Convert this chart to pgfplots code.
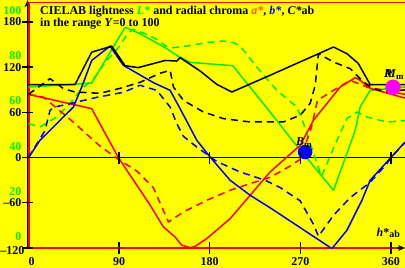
\documentclass[border=0pt]{standalone}
\usepackage{pgfplots}
\pgfplotsset{compat=1.18}
\usetikzlibrary{arrows.meta}
\usepackage{fontspec}
\setmainfont{Liberation Serif}
\definecolor{bg}{RGB}{255,255,0}
\definecolor{lg}{RGB}{0,235,0}
\definecolor{lgl}{RGB}{0,240,0}
\definecolor{ora}{RGB}{255,90,0}
\definecolor{mag}{RGB}{255,0,255}
\begin{document}
\begin{tikzpicture}[x=1pt,y=1pt]
\fill[bg] (-28.5,-20) rectangle (376.5,248);
\path[use as bounding box] (-28.5,-20) rectangle (376.5,248);
\begin{axis}[at={(0,0)},anchor=south west,scale only axis,
  width=376.5pt,height=247.8pt,
  xmin=0,xmax=374,ymin=-120,ymax=209,
  hide axis,clip=false,
  every axis plot/.append style={line width=1.5pt,line join=round,mark=none},
  dsh/.style={dash pattern=on 7pt off 5pt}]
% frame and axes
\draw[red,line width=1.5pt] (axis cs:0,206) -- (axis cs:374,206);
\draw[black,line width=1.3pt] (axis cs:0,0) -- (axis cs:374,0);
\draw[black,line width=1.3pt,-{Stealth[length=7pt,width=6pt]}] ([xshift=-1pt]axis cs:0,-120) -- ([xshift=-1pt]axis cs:0,209);
\draw[black,line width=1.3pt,-{Stealth[length=7pt,width=6pt]}] (axis cs:0,-120) -- (axis cs:374,-120);
\draw[red,line width=1.5pt] (axis cs:0,-120) -- (axis cs:366,-120);
\draw[red,line width=1.5pt] ([xshift=0.5pt]axis cs:0,-120) -- ([xshift=0.5pt]axis cs:0,206);

% L* (green)
\addplot[lg] coordinates {(0,93.7)(62.8,99)(95.9,173)(110.8,164.6)(135.7,146)(147.3,135.8)(160.5,126.5)(203,122)(240,60.5)(262,23)(303,-43.4)(324.6,36.2)(329.5,67.2)(339.4,89.3)(374,93.7)};
\addplot[lg,dsh] coordinates {(0,45.2)(11.4,40.6)(28,53.9)(41.3,71.7)(52.9,91.6)(64.4,104)(76,126.1)(89.3,146)(99.2,166)(104.2,170.3)(117.5,163.7)(127.4,157)(138.7,146)(144,146)(157.3,148.2)(177.1,152.7)(193.6,154.8)(203.6,152.7)(210.2,148.2)(226.8,120.3)(246.7,89.3)(266.6,67.2)(273.2,45.1)(291,-25)(306.4,23)(316.3,51.8)(326.2,60.5)(336.2,53.9)(356,47.3)(374,49)};
% a* (red)
\addplot[red] coordinates {(0,84)(62.8,65)(89.3,0)(120.8,-63)(134,-92)(145.6,-105.4)(152.3,-116.4)(160.6,-119.5)(165.5,-117.8)(177.1,-107.5)(200.3,-81)(220.2,-50)(240,-19)(269.9,16.3)(283,49.5)(309.6,93.7)(324.6,106.2)(329.5,102.6)(339.4,92)(374,79)};
\addplot[red,dsh] coordinates {(0,84)(14.7,80.4)(34.6,58.4)(46.2,45.1)(62.8,25.2)(71,15.4)(89.3,-2.3)(107.6,-17.8)(124,-39.8)(139,-85.5)(153.9,-72.2)(177.1,-56.7)(200.3,-43.4)(220.2,-34.5)(240,-26.2)(259.9,-11.2)(269.9,-2.3)(281,40)(287,76)(303,89.3)(319.6,102.6)(336.2,93.7)(374,84)};
% b* (blue)
\addplot[blue] coordinates {(0,0)(11.4,23)(28,45)(44.5,67)(52.9,93.7)(62.8,129)(81,148)(94.2,122.5)(124,99.6)(140.7,89.3)(150.6,65)(167.2,23)(180.4,0.8)(200.3,-30.1)(220.2,-50)(240,-66.6)(301.4,-120.8)(316.3,-96.5)(331.2,-56.7)(339.4,-30)(360,0)(374,20.7)};
\addplot[blue,dsh] coordinates {(0,0)(16.4,36)(21.4,62.8)(26.3,67.2)(41.3,71.7)(67.8,80)(94.2,86.7)(110.8,96)(127.4,89.3)(140.7,67.2)(147.3,45.1)(153.9,28.3)(167.2,14)(187.1,-5.2)(210.2,-19.1)(235.1,-30.1)(250,-39.8)(269.9,-57.4)(283.1,-88.5)(288,-104.5)(303,-76.6)(319.6,-53.1)(339.4,-32.8)(356,-8)(360,0)(374,20)};
% C*ab (black)
\addplot[black] coordinates {(0,97)(46.2,97)(62.8,140)(82.7,148)(95.9,122)(109,119.5)(135.7,129)(147.3,128.2)(150.6,132.8)(170.5,115)(187,97.3)(202,87.1)(240,109.3)(303,146.8)(316.3,138)(327.5,125.2)(339.4,97)(374,97)};
\addplot[black,dsh] coordinates {(0,84)(21.4,104.9)(34.6,91.6)(46.2,87.1)(71,85.4)(91,92)(110.8,100)(130.7,112)(140.7,115.9)(144,93.7)(153.9,76)(173.8,60.5)(193.6,51.8)(220.2,47.3)(253,47.3)(269.9,56.2)(279.8,72.1)(284.8,96)(288,138)(303,126.9)(319.6,118.1)(332.8,100.4)(342.7,91.6)(356,87.1)(374,90)};
% dots
\addplot[only marks,mark=*,mark size=6.5pt,blue] coordinates {(274.8,7.4)};
\addplot[only marks,mark=*,mark size=7pt,mag,mark options={draw=mag}] coordinates {(362.1,93.3)};
\end{axis}
% point labels
\node[anchor=base west,inner sep=0pt,font=\bfseries\fontsize{12}{12}\selectfont] at (267.5,102) {\textit{B}\raisebox{-2pt}{\fontsize{9}{9}\selectfont m}};
\node[anchor=base west,inner sep=0pt,font=\bfseries\fontsize{12}{12}\selectfont] at (355.5,170.5) {\textit{R}};
\node[anchor=base west,inner sep=0pt,font=\bfseries\fontsize{12}{12}\selectfont] at (356.5,170.5) {\textit{M}\raisebox{-2pt}{\fontsize{9}{9}\selectfont m}};
% y ticks and labels
\foreach \y/\t in {45.2/--60,90.4/0,135.6/60,180.8/120,226.0/180}{
  \draw[black,line width=1.4pt] (-6.5,\y) -- (4.5,\y);
  \node[anchor=east,inner sep=0pt,font=\bfseries\fontsize{12}{12}\selectfont] at (-7,\y) {\t};
}
\draw[black,line width=1.4pt] (-6.5,0) -- (4.5,0);
\node[anchor=west,inner sep=0pt,font=\bfseries\fontsize{12}{12}\selectfont] at (-28.3,-2.5) {--120};
\foreach \y/\t in {237.7/100,192.5/80,147.2/60,101.9/40,56.6/20,11.9/0}{
  \node[anchor=east,inner sep=0pt,text=lgl,font=\bfseries\fontsize{12}{12}\selectfont] at (-7,\y) {\t};
}
% x ticks and labels
\foreach \x/\t in {90.6/90,181.2/180,271.8/270,362.4/360}{
  \draw[black,line width=1.4pt] (\x,84.4) -- (\x,96.4);
  \draw[black,line width=1.4pt] (\x,-6) -- (\x,6);
  \node[anchor=base,inner sep=0pt,font=\bfseries\fontsize{12}{12}\selectfont] at (\x,-17.5) {\t};
}
\node[anchor=base,inner sep=0pt,font=\bfseries\fontsize{12}{12}\selectfont] at (3,-17.5) {0};
% titles
\node[anchor=base west,inner sep=0pt,font=\bfseries\fontsize{12}{12}\selectfont] at (11.5,233) {CIELAB lightness \textcolor{lg}{\textit{L*}} and radial chroma \textcolor{ora}{\textit{a*}}, \textcolor{blue}{\textit{b*}}, \textit{C*}ab};
\node[anchor=base west,inner sep=0pt,font=\bfseries\fontsize{12}{12}\selectfont] at (11.5,221) {in the range \textit{Y}=0 to 100};
\node[anchor=base west,inner sep=0pt,font=\bfseries\fontsize{12}{12}\selectfont] at (348,11) {\textit{h}*\raisebox{-1pt}{\fontsize{10}{10}\selectfont ab}};
\end{tikzpicture}
\end{document}
